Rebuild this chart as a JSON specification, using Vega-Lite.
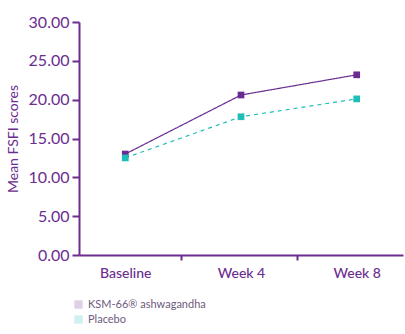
{
  "$schema": "https://vega.github.io/schema/vega-lite/v6.json",
  "width": 324,
  "height": 233,
  "autosize": {"type": "none"},
  "padding": {"left": 79, "top": 22, "right": 2, "bottom": 79},
  "background": "white",
  "config": {"view": {"stroke": null}, "font": "Lato"},
  "data": {"values": [
    {"time": "Baseline", "group": "KSM-66® ashwagandha", "score": 13.0},
    {"time": "Week 4", "group": "KSM-66® ashwagandha", "score": 20.6},
    {"time": "Week 8", "group": "KSM-66® ashwagandha", "score": 23.2},
    {"time": "Baseline", "group": "Placebo", "score": 12.5},
    {"time": "Week 4", "group": "Placebo", "score": 17.8},
    {"time": "Week 8", "group": "Placebo", "score": 20.1}
  ]},
  "mark": {"type": "line", "strokeWidth": 1.2, "point": {"shape": "square", "size": 45, "filled": true, "opacity": 1}},
  "encoding": {
    "x": {"field": "time", "type": "ordinal", "sort": ["Baseline", "Week 4", "Week 8"],
      "scale": {"type": "point", "padding": 0.4},
      "axis": {"title": null, "labelAngle": 0, "domainColor": "#6b2d8f", "domainWidth": 2, "tickColor": "#6b2d8f", "tickWidth": 2, "tickSize": 5, "tickOffset": 56, "labelOffset": -56, "labelColor": "#6b2d8f", "labelFontSize": 14, "labelPadding": 6, "labelFontWeight": 500}},
    "y": {"field": "score", "type": "quantitative",
      "scale": {"domain": [0, 30]},
      "axis": {"title": "Mean FSFI scores", "values": [0, 5, 10, 15, 20, 25, 30], "format": ".2f", "grid": false, "domainColor": "#6b2d8f", "domainWidth": 2, "tickColor": "#6b2d8f", "tickWidth": 2, "tickSize": 7, "labelColor": "#6b2d8f", "labelFontSize": 16, "labelPadding": 3, "titleColor": "#6b2d8f", "titleFontSize": 14, "titleFontWeight": "normal", "titlePadding": 8}},
    "color": {"field": "group", "type": "nominal",
      "scale": {"domain": ["KSM-66® ashwagandha", "Placebo"], "range": ["#6a2c91", "#1fbdb8"]},
      "legend": {"title": null, "orient": "none", "legendX": -6, "legendY": 277, "symbolType": "square", "symbolSize": 70, "symbolOpacity": 0.22, "symbolStrokeWidth": 0, "labelFontSize": 11, "labelColor": "#6d5a80", "rowPadding": 3, "labelOffset": 4}},
    "strokeDash": {"field": "group", "type": "nominal",
      "scale": {"domain": ["KSM-66® ashwagandha", "Placebo"], "range": [[1, 0], [4, 4]]},
      "legend": null}
  }
}
